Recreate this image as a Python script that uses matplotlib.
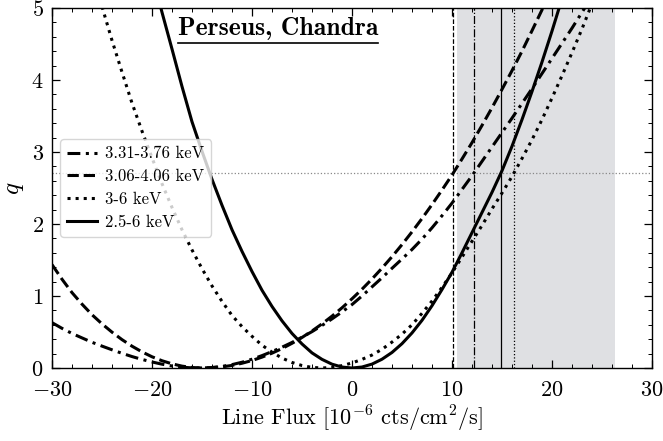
import numpy as np
import matplotlib
matplotlib.use('Agg')
from matplotlib import pyplot as plt
from matplotlib.lines import Line2D
from matplotlib.ticker import MultipleLocator

plt.rcParams['font.family'] = 'serif'
plt.rcParams['font.serif'] = ['cmr10']
plt.rcParams['mathtext.fontset'] = 'cm'
plt.rcParams['axes.formatter.use_mathtext'] = True

nan = np.nan

# Line flux grid [1e-6 cts/cm^2/s], -30 .. 30 in steps of 1
flux = list(range(-30, 31))

# q curves (nan = above the frame)
q_331_376 = [0.63, 0.551, 0.48, 0.418, 0.357, 0.304, 0.253, 0.204, 0.159, 0.119,
             0.084, 0.053, 0.028, 0.011, 0.002, 0.0, 0.007, 0.022, 0.047, 0.08,
             0.122, 0.172, 0.228, 0.289, 0.355, 0.428, 0.505, 0.591, 0.682, 0.779,
             0.881, 1.0, 1.127, 1.253, 1.385, 1.514, 1.646, 1.79, 1.947, 2.115,
             2.29, 2.48, 2.67, 2.87, 3.07, 3.27, 3.47, 3.675, 3.88, 4.09,
             4.30, 4.51, 4.72, 4.94, 5.16, nan, nan, nan, nan, nan, nan]
q_306_406 = [1.436, 1.233, 1.047, 0.887, 0.74, 0.613, 0.498, 0.394, 0.303, 0.224,
             0.156, 0.101, 0.058, 0.026, 0.007, 0.0, 0.0035, 0.0156, 0.036, 0.066,
             0.104, 0.151, 0.206, 0.27, 0.343, 0.424, 0.514, 0.613, 0.72, 0.836,
             0.961, 1.094, 1.236, 1.387, 1.546, 1.714, 1.891, 2.076, 2.27, 2.472,
             2.68, 2.903, 3.13, 3.369, 3.615, 3.87, 4.13, 4.40, 4.685, 4.974,
             5.27, nan, nan, nan, nan, nan, nan, nan, nan, nan, nan]
q_3_6 = [nan, nan, nan, nan, 5.5, 5.02, 4.55, 4.11, 3.68, 3.29,
         2.92, 2.56, 2.23, 1.92, 1.64, 1.38, 1.14, 0.925, 0.73, 0.575,
         0.44, 0.317, 0.22, 0.138, 0.077, 0.034, 0.008, 0.0, 0.008, 0.033,
         0.07, 0.12, 0.18, 0.26, 0.36, 0.47, 0.60, 0.76, 0.93, 1.12,
         1.32, 1.54, 1.76, 1.98, 2.21, 2.43, 2.66, 2.91, 3.17, 3.45,
         3.75, 4.06, 4.38, 4.71, 5.06, nan, nan, nan, nan, nan, nan]
q_25_6 = [nan, nan, nan, nan, nan, nan, nan, nan, nan, nan,
          5.47, 4.94, 4.43, 3.91, 3.42, 3.01, 2.62, 2.26, 1.92, 1.62,
          1.34, 1.08, 0.855, 0.655, 0.48, 0.334, 0.21, 0.12, 0.053, 0.013,
          0.0, 0.0135, 0.054, 0.122, 0.216, 0.338, 0.487, 0.662, 0.865, 1.09,
          1.33, 1.60, 1.88, 2.16, 2.44, 2.74, 3.08, 3.45, 3.84, 4.25,
          4.68, 5.13, nan, nan, nan, nan, nan, nan, nan, nan, nan]

labels = ['3.31-3.76 keV', '3.06-4.06 keV', '3-6 keV', '2.5-6 keV']
curves = [q_331_376, q_306_406, q_3_6, q_25_6]
styles = [(0, (4.2, 1.8, 1.0, 1.8)), '--', ':', '-']

# 95% upper limits (q = 2.71) for each band, same order
upper_limits = [12.2, 10.1, 16.2, 14.9]
q_threshold = 2.71
band = [10.5, 26.3]

fig = plt.figure(figsize=(6.63, 4.41), dpi=100)
ax = fig.add_axes([52 / 663, 1 - 368 / 441, 600 / 663, 360 / 441])

ax.axvspan(band[0], band[1], color='#dfe0e3', lw=0, zorder=0)
ax.axhline(q_threshold, color='#888888', ls=':', lw=0.9, zorder=1)

thin = ['-.', '--', ':', '-']
for ul, ls in zip(upper_limits, thin):
    ax.axvline(ul, color='k', ls=ls, lw=0.9, zorder=2)

for q, ls, lab in zip(curves, styles, labels):
    ax.plot(flux, q, color='k', ls=ls, lw=2.2, label=lab, zorder=3)

ax.set_xlim(-30, 30)
ax.set_ylim(0, 5)
ax.xaxis.set_major_locator(MultipleLocator(10))
ax.xaxis.set_minor_locator(MultipleLocator(2))
ax.yaxis.set_major_locator(MultipleLocator(1))
ax.yaxis.set_minor_locator(MultipleLocator(0.2))
ax.tick_params(which='both', direction='in', top=True, right=True, labelsize=16)
ax.tick_params(axis='x', pad=9)
ax.tick_params(axis='y', pad=6)
ax.tick_params(which='major', length=6, width=0.9)
ax.tick_params(which='minor', length=3, width=0.7)
for s in ax.spines.values():
    s.set_linewidth(1.0)

ax.set_xlabel(r'Line Flux [$10^{-6}$ cts/cm$^2$/s]', fontsize=16, labelpad=3)
ax.set_ylabel(r'$q$', fontsize=18)

ax.legend(loc='center left', bbox_to_anchor=(0.0, 0.5), fontsize=12,
          handlelength=1.8, handletextpad=0.5, labelspacing=0.45)

title_xy = (0.21, 0.925)
title = ax.text(*title_xy, 'Perseus, Chandra', transform=ax.transAxes,
                fontfamily='cmb10', fontsize=18.5, va='baseline', ha='left')

# underline the title, a few pixels below its baseline
fig.canvas.draw()
bb = title.get_window_extent(fig.canvas.get_renderer())
base_y = ax.transAxes.transform(title_xy)[1]
inv = fig.transFigure.inverted()
(x0, y0), (x1, _) = inv.transform([(bb.x0, base_y - 8), (bb.x1, base_y)])
fig.add_artist(Line2D([x0, x1], [y0, y0], transform=fig.transFigure, color='k', lw=1.2))

fig.savefig('out.png', dpi=100)
